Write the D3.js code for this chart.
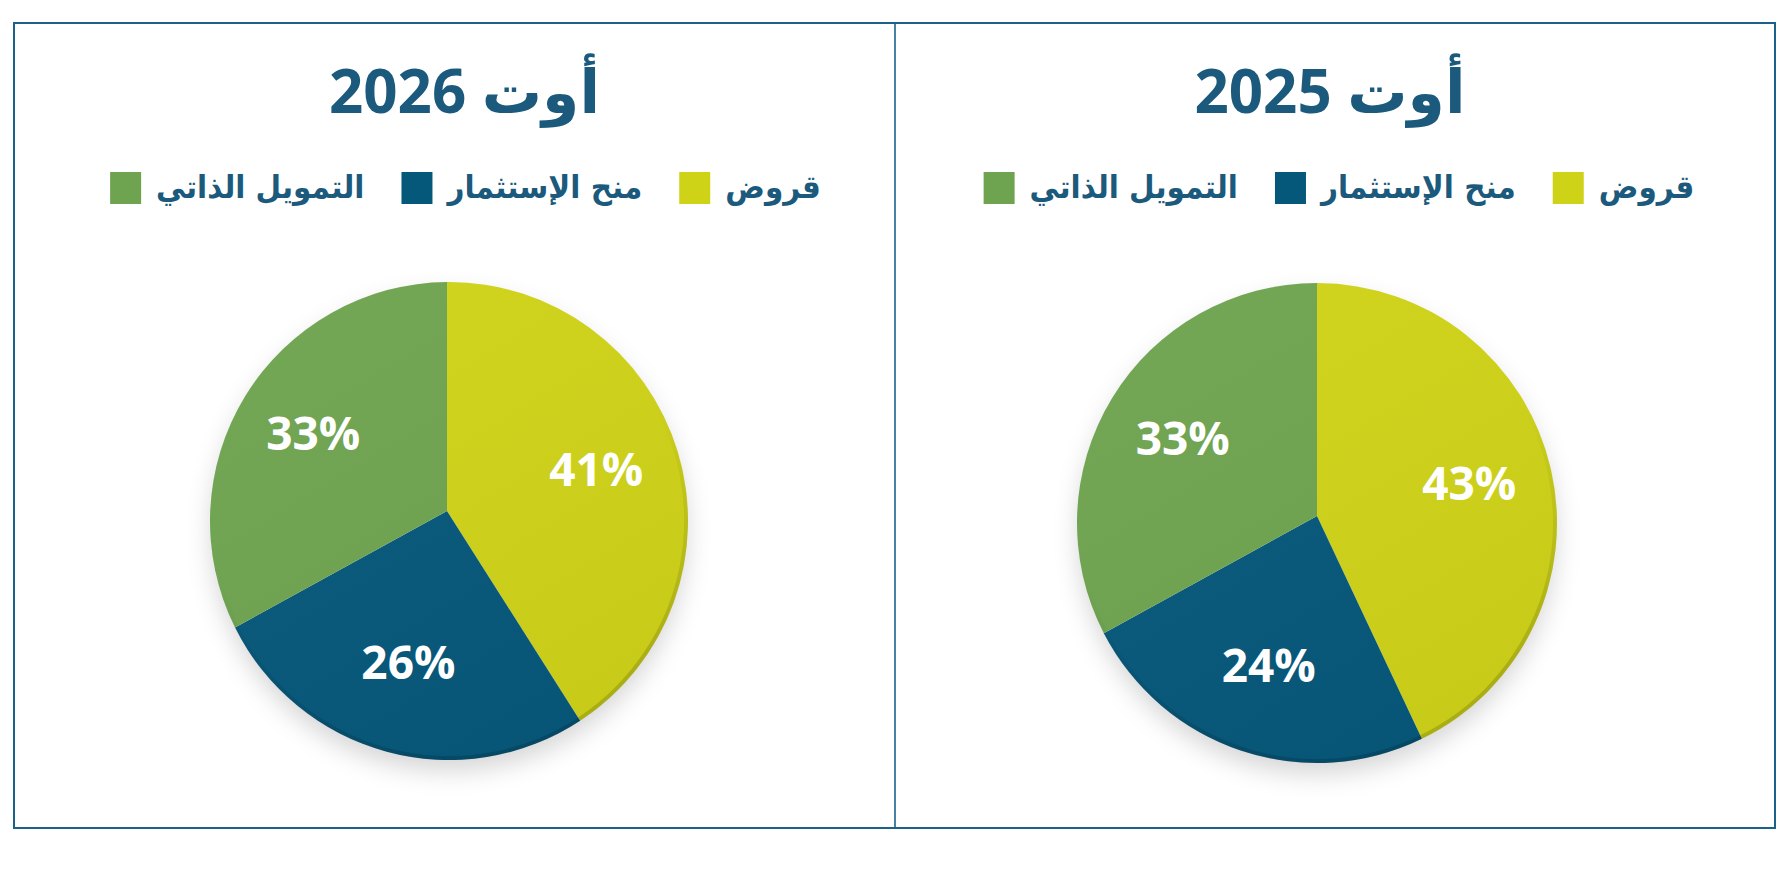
<!DOCTYPE html>
<html>
<head>
<meta charset="utf-8">
<script src="https://cdn.jsdelivr.net/npm/d3@7/dist/d3.min.js"></script>
<style>
  html, body { margin: 0; padding: 0; background: #ffffff; }
  svg { display: block; }
</style>
</head>
<body>
<svg id="chart" width="1790" height="879"></svg>
<script>
// ---- data ----
const categories = ["قروض", "منح الإستثمار", "التمويل الذاتي"];
const panelTitles = ["أوت 2026", "أوت 2025"];
const values2026 = [41, 26, 33];
const values2025 = [43, 24, 33];
const seriesColors = ["#cfd318", "#06587b", "#6ea44f"];

// ---- layout ----
const frame = { x0: 14, y0: 23, x1: 1775, y1: 828, mid: 895 };
const panels = [
  { title: panelTitles[0], values: values2026, x0: frame.x0, x1: frame.mid,
    cx: 449, cy: 521, jx: 447, jy: 511, r: 239, titleShift: 10, legendShift: 11 },
  { title: panelTitles[1], values: values2025, x0: frame.mid, x1: frame.x1,
    cx: 1317, cy: 523, jx: 1317, jy: 516, r: 240, titleShift: -5, legendShift: 4 }
];
const ink = "#1b5a7c";
const arabicFont = "'DejaVu Sans', 'Noto Sans', sans-serif";
const numFont = "'Open Sans', 'DejaVu Sans', sans-serif";

const svg = d3.select("#chart");
const defs = svg.append("defs");

const shadow = defs.append("filter").attr("id", "pieShadow")
  .attr("x", "-30%").attr("y", "-30%").attr("width", "160%").attr("height", "160%");
shadow.append("feDropShadow").attr("dx", 0).attr("dy", 12).attr("stdDeviation", 12)
  .attr("flood-color", "#000").attr("flood-opacity", 0.16);

const rimGrad = defs.append("linearGradient").attr("id", "rimGrad")
  .attr("x1", 0).attr("y1", 0).attr("x2", 0.4).attr("y2", 1);
rimGrad.append("stop").attr("offset", "0%").attr("stop-color", "#000").attr("stop-opacity", 0);
rimGrad.append("stop").attr("offset", "55%").attr("stop-color", "#000").attr("stop-opacity", 0);
rimGrad.append("stop").attr("offset", "100%").attr("stop-color", "#000").attr("stop-opacity", 0.15);

const shadeGrad = defs.append("linearGradient").attr("id", "shadeGrad")
  .attr("x1", 0.2).attr("y1", 0).attr("x2", 0.8).attr("y2", 1);
shadeGrad.append("stop").attr("offset", "0%").attr("stop-color", "#fff").attr("stop-opacity", 0.03);
shadeGrad.append("stop").attr("offset", "100%").attr("stop-color", "#000").attr("stop-opacity", 0.04);

const color = d3.scaleOrdinal().domain(categories).range(seriesColors);

// frame
svg.append("rect")
  .attr("x", frame.x0).attr("y", frame.y0)
  .attr("width", frame.x1 - frame.x0).attr("height", frame.y1 - frame.y0)
  .attr("fill", "none").attr("stroke", "#1a628c").attr("stroke-width", 2);
svg.append("line")
  .attr("x1", frame.mid).attr("x2", frame.mid).attr("y1", frame.y0).attr("y2", frame.y1)
  .attr("stroke", "#1a628c").attr("stroke-width", 1.6);

const pie = d3.pie().sort(null).value(d => d.value);

panels.forEach(p => {
  const g = svg.append("g");
  const pcx = (p.x0 + p.x1) / 2;

  // title
  g.append("text")
    .attr("x", pcx + p.titleShift).attr("y", 113)
    .attr("text-anchor", "middle")
    .attr("direction", "rtl")
    .style("direction", "rtl")
    .attr("font-family", numFont)
    .attr("font-weight", 700)
    .attr("font-size", 60)
    .attr("fill", ink)
    .text(p.title);

  // legend (right to left)
  const lg = g.append("g");
  const sq = 31, gapTS = 15, gapItem = 37;
  let cursor = 0;
  categories.forEach((c) => {
    const t = lg.append("text")
      .attr("y", 0)
      .attr("transform", "translate(0,198) scale(1,1.08)")
      .attr("text-anchor", "middle")
      .style("direction", "rtl")
      .attr("font-family", arabicFont)
      .attr("font-weight", 700)
      .attr("font-size", 29.5)
      .attr("fill", ink)
      .text(c);
    const w = t.node().getComputedTextLength();
    t.attr("x", cursor - w / 2);
    cursor -= w + gapTS;
    lg.append("rect")
      .attr("x", cursor - sq).attr("y", 172)
      .attr("width", sq).attr("height", 32)
      .attr("fill", color(c));
    cursor -= sq + gapItem;
  });
  const total = -(cursor + gapItem);
  lg.attr("transform", `translate(${pcx + p.legendShift + total / 2},0)`);

  // pie: slices radiate from the junction point J to the rim of the circle (C, r)
  const data = categories.map((c, i) => ({ name: c, value: p.values[i] }));
  const arcs = pie(data);
  const dx = p.jx - p.cx, dy = p.jy - p.cy;
  const rimPoint = a => {
    const ux = Math.sin(a), uy = -Math.cos(a);
    const b = dx * ux + dy * uy;
    const c = dx * dx + dy * dy - p.r * p.r;
    const t = -b + Math.sqrt(b * b - c);
    return [p.jx + ux * t, p.jy + uy * t];
  };
  const slicePath = d => {
    const p0 = rimPoint(d.startAngle), p1 = rimPoint(d.endAngle);
    const f0 = Math.atan2(p0[1] - p.cy, p0[0] - p.cx);
    const f1 = Math.atan2(p1[1] - p.cy, p1[0] - p.cx);
    const path = d3.path();
    path.moveTo(p.jx, p.jy);
    path.lineTo(p0[0], p0[1]);
    path.arc(p.cx, p.cy, p.r, f0, f1, false);
    path.closePath();
    return path.toString();
  };
  const rim = d3.arc().innerRadius(p.r - 4).outerRadius(p.r).startAngle(0).endAngle(2 * Math.PI);

  g.append("circle").attr("cx", p.cx).attr("cy", p.cy).attr("r", p.r - 1)
    .attr("fill", "#fff").attr("filter", "url(#pieShadow)");
  g.selectAll("path.slice").data(arcs).join("path")
    .attr("class", "slice")
    .attr("d", slicePath)
    .attr("fill", d => color(d.data.name));
  g.append("circle").attr("cx", p.cx).attr("cy", p.cy).attr("r", p.r).attr("fill", "url(#shadeGrad)");
  g.append("path").attr("transform", `translate(${p.cx},${p.cy})`)
    .attr("d", rim()).attr("fill", "url(#rimGrad)");

  const lr = p.r * 0.65;
  g.selectAll("text.lbl").data(arcs).join("text")
    .attr("class", "lbl")
    .attr("x", d => p.jx + Math.sin((d.startAngle + d.endAngle) / 2) * lr)
    .attr("y", d => p.jy - Math.cos((d.startAngle + d.endAngle) / 2) * lr)
    .attr("text-anchor", "middle")
    .attr("dominant-baseline", "central")
    .attr("font-family", numFont)
    .attr("font-weight", 700)
    .attr("font-size", 46)
    .attr("fill", "#ffffff")
    .text(d => d.data.value + "%");
});
</script>
</body>
</html>
